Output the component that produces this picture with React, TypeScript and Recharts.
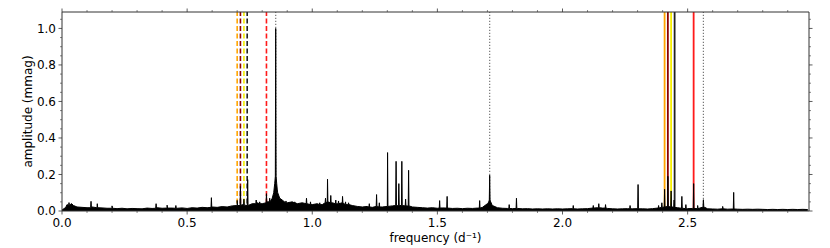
import { Area, ComposedChart, ReferenceLine, XAxis, YAxis } from "recharts";

// noise envelope of the amplitude spectrum, one value every 0.02 d^-1 from 0.00
const NOISE_STEP = 0.02;
const noiseAmp = [
  0.005, 0.035, 0.038, 0.022, 0.02, 0.018, 0.022, 0.02, 0.017, 0.015,
  0.016, 0.013, 0.015, 0.012, 0.014, 0.013, 0.012, 0.016, 0.014, 0.018,
  0.015, 0.02, 0.016, 0.015, 0.017, 0.014, 0.018, 0.016, 0.02, 0.018,
  0.022, 0.02, 0.024, 0.022, 0.028, 0.03, 0.035, 0.03, 0.04, 0.045,
  0.04, 0.05, 0.07, 0.12, 0.06, 0.045, 0.05, 0.04, 0.045, 0.04,
  0.035, 0.04, 0.035, 0.05, 0.045, 0.04, 0.045, 0.035, 0.03, 0.025,
  0.022, 0.025, 0.02, 0.025, 0.022, 0.025, 0.028, 0.03, 0.03, 0.028,
  0.022, 0.02, 0.018, 0.016, 0.018, 0.015, 0.017, 0.016, 0.014, 0.015,
  0.013, 0.015, 0.014, 0.016, 0.02, 0.04, 0.03, 0.018, 0.015, 0.014,
  0.013, 0.014, 0.012, 0.013, 0.011, 0.012, 0.011, 0.012, 0.011, 0.012,
  0.011, 0.012, 0.013, 0.011, 0.012, 0.013, 0.016, 0.018, 0.016, 0.014,
  0.012, 0.011, 0.012, 0.013, 0.012, 0.013, 0.012, 0.011, 0.013, 0.016,
  0.02, 0.025, 0.022, 0.018, 0.015, 0.013, 0.014, 0.013, 0.02, 0.012,
  0.011, 0.01, 0.012, 0.01, 0.011, 0.01, 0.009, 0.01, 0.009, 0.01,
  0.009, 0.008, 0.009, 0.008, 0.009, 0.008, 0.009, 0.008, 0.009, 0.008,
];

// narrow peaks: [frequency, amplitude, local base]
const peaks: [number, number, number][] = [
  [0.028, 0.046, 0.03], [0.116, 0.053, 0.018], [0.141, 0.04, 0.018], [0.2, 0.028, 0.015],
  [0.376, 0.04, 0.015], [0.42, 0.032, 0.016], [0.455, 0.03, 0.015], [0.597, 0.073, 0.02],
  [0.7, 0.058, 0.03], [0.713, 0.135, 0.03], [0.727, 0.065, 0.032], [0.742, 0.172, 0.03],
  [0.776, 0.06, 0.04], [0.79, 0.05, 0.04], [0.817, 0.095, 0.045], [0.83, 0.07, 0.05],
  [0.854, 1.0, 0.19], [0.895, 0.055, 0.045], [0.93, 0.05, 0.045], [0.977, 0.07, 0.04],
  [0.993, 0.05, 0.035], [1.03, 0.045, 0.035], [1.053, 0.07, 0.045], [1.061, 0.174, 0.05],
  [1.074, 0.085, 0.045], [1.094, 0.06, 0.04], [1.105, 0.055, 0.04], [1.121, 0.08, 0.045],
  [1.133, 0.05, 0.035], [1.145, 0.045, 0.035], [1.228, 0.04, 0.022], [1.257, 0.09, 0.025],
  [1.268, 0.045, 0.022], [1.301, 0.32, 0.025], [1.335, 0.272, 0.03], [1.346, 0.15, 0.03],
  [1.358, 0.272, 0.03], [1.373, 0.065, 0.028], [1.385, 0.223, 0.028], [1.509, 0.057, 0.016],
  [1.539, 0.08, 0.016], [1.669, 0.057, 0.016], [1.787, 0.035, 0.014], [1.816, 0.07, 0.014],
  [2.043, 0.03, 0.012], [2.123, 0.03, 0.016], [2.145, 0.04, 0.018], [2.172, 0.035, 0.016],
  [2.27, 0.03, 0.012], [2.302, 0.145, 0.012], [2.384, 0.03, 0.016], [2.397, 0.045, 0.02],
  [2.408, 0.119, 0.022], [2.421, 0.19, 0.025], [2.434, 0.11, 0.022], [2.446, 0.06, 0.02],
  [2.477, 0.08, 0.015], [2.493, 0.035, 0.013], [2.524, 0.15, 0.014], [2.54, 0.03, 0.013],
  [1.709, 0.196, 0.06], [2.563, 0.062, 0.025], [2.64, 0.025, 0.012], [2.684, 0.102, 0.011],
];

// broad wings around the main signal and its harmonics: [frequency, amplitude]
const wings: [number, number][] = [
  [0.015, 0.02], [0.036, 0.04], [0.046, 0.03],
  [0.846, 0.1], [0.85, 0.15], [0.858, 0.15], [0.862, 0.1], [0.87, 0.07],
  [1.7, 0.035], [1.705, 0.05], [1.713, 0.05], [1.718, 0.035],
  [2.558, 0.02], [2.568, 0.02],
];

const dashedFreqs = [0.7, 0.713, 0.727, 0.74, 0.817];
const solidFreqs = [2.408, 2.421, 2.434, 2.448, 2.524];
const harmonicFreqs = [0.854, 1.709, 2.563];

const xTicks = [
  0, 0.1, 0.2, 0.3, 0.4, 0.5, 0.6, 0.7, 0.8, 0.9, 1, 1.1, 1.2, 1.3, 1.4,
  1.5, 1.6, 1.7, 1.8, 1.9, 2, 2.1, 2.2, 2.3, 2.4, 2.5, 2.6, 2.7, 2.8, 2.9,
];
const yTicks = [
  0, 0.05, 0.1, 0.15, 0.2, 0.25, 0.3, 0.35, 0.4, 0.45, 0.5, 0.55,
  0.6, 0.65, 0.7, 0.75, 0.8, 0.85, 0.9, 0.95, 1, 1.05,
];

const LINE_COLORS = ["#ffa500", "#8b0000", "#f5ee00", "#222222", "#ff1a1a"];
const AXIS = "#333";
const FONT = "DejaVu Sans, sans-serif";

const W = 830;
const H = 248;
const LEFT = 62;
const RIGHT = 21;
const TOP = 12;
const BOTTOM = 37;

const points: { f: number; a: number }[] = [];
noiseAmp.forEach((a, i) => points.push({ f: Math.round(i * NOISE_STEP * 1000) / 1000, a }));
wings.forEach(([f, a]) => points.push({ f, a }));
peaks.forEach(([f, a, b]) => {
  points.push({ f: f - 0.0015, a: b });
  points.push({ f, a });
  points.push({ f: f + 0.0015, a: b });
});
points.sort((p, q) => p.f - q.f);

const isMajor = (v: number, every: number) => Math.abs(v / every - Math.round(v / every)) < 1e-6;

function BottomTick({ x, y, payload }: any) {
  const major = isMajor(payload.value, 0.5);
  return (
    <g>
      <line x1={x} x2={x} y1={y} y2={y + (major ? 3.5 : 2)} stroke={AXIS} strokeWidth={major ? 0.8 : 0.6} />
      {major && (
        <text x={x} y={y + 16} textAnchor="middle" fontSize={12} fontFamily={FONT} fill="#000">
          {payload.value.toFixed(1)}
        </text>
      )}
    </g>
  );
}

function TopTick({ x, y, payload }: any) {
  const major = isMajor(payload.value, 0.5);
  return <line x1={x} x2={x} y1={y} y2={y - (major ? 3.5 : 2)} stroke={AXIS} strokeWidth={major ? 0.8 : 0.6} />;
}

function LeftTick({ x, y, payload }: any) {
  const major = isMajor(payload.value, 0.2);
  return (
    <g>
      <line x1={x - (major ? 3.5 : 2)} x2={x} y1={y} y2={y} stroke={AXIS} strokeWidth={major ? 0.8 : 0.6} />
      {major && (
        <text x={x - 6} y={y + 4.3} textAnchor="end" fontSize={12} fontFamily={FONT} fill="#000">
          {payload.value.toFixed(1)}
        </text>
      )}
    </g>
  );
}

function RightTick({ x, y, payload }: any) {
  const major = isMajor(payload.value, 0.2);
  return <line x1={x} x2={x + (major ? 3.5 : 2)} y1={y} y2={y} stroke={AXIS} strokeWidth={major ? 0.8 : 0.6} />;
}

export default function App() {
  const plotH = H - TOP - BOTTOM;
  return (
    <div style={{ position: "absolute", left: 0, top: 0, width: W, height: H, background: "#fff" }}>
      <ComposedChart width={W} height={H} data={points} margin={{ top: 0, right: 0, bottom: 0, left: 0 }}>
        <XAxis
          dataKey="f"
          type="number"
          domain={[0, 2.985]}
          allowDataOverflow
          ticks={xTicks}
          interval={0}
          height={BOTTOM}
          tickSize={0}
          tickMargin={0}
          tickLine={false}
          axisLine={{ stroke: AXIS, strokeWidth: 1 }}
          tick={(p: any) => <BottomTick {...p} />}
          label={{
            content: () => (
              <text x={LEFT + (W - LEFT - RIGHT) / 2} y={H - 6} textAnchor="middle" fontSize={12} fontFamily={FONT} fill="#000">
                frequency (d⁻¹)
              </text>
            ),
          }}
        />
        <XAxis
          xAxisId="top"
          orientation="top"
          dataKey="f"
          type="number"
          domain={[0, 2.985]}
          allowDataOverflow
          ticks={xTicks}
          interval={0}
          height={TOP}
          tickSize={0}
          tickMargin={0}
          tickLine={false}
          axisLine={{ stroke: AXIS, strokeWidth: 1 }}
          tick={(p: any) => <TopTick {...p} />}
        />
        <YAxis
          type="number"
          domain={[0, 1.09]}
          allowDataOverflow
          ticks={yTicks}
          interval={0}
          width={LEFT}
          tickSize={0}
          tickMargin={0}
          tickLine={false}
          axisLine={{ stroke: AXIS, strokeWidth: 1 }}
          tick={(p: any) => <LeftTick {...p} />}
          label={{
            content: () => (
              <text
                x={28}
                y={TOP + plotH / 2}
                transform={`rotate(-90, 28, ${TOP + plotH / 2})`}
                textAnchor="middle"
                dominantBaseline="central"
                fontSize={12}
                fontFamily={FONT}
                fill="#000"
              >
                amplitude (mmag)
              </text>
            ),
          }}
        />
        <YAxis
          yAxisId="right"
          orientation="right"
          type="number"
          domain={[0, 1.09]}
          allowDataOverflow
          ticks={yTicks}
          interval={0}
          width={RIGHT}
          tickSize={0}
          tickMargin={0}
          tickLine={false}
          axisLine={{ stroke: AXIS, strokeWidth: 1 }}
          tick={(p: any) => <RightTick {...p} />}
        />
        {dashedFreqs.map((f, i) => (
          <ReferenceLine key={`d${i}`} x={f} stroke={LINE_COLORS[i]} strokeWidth={1.6} strokeDasharray="5 2.5" zIndex={50} />
        ))}
        {solidFreqs.map((f, i) => (
          <ReferenceLine key={`s${i}`} x={f} stroke={LINE_COLORS[i]} strokeWidth={1.8} zIndex={50} />
        ))}
        {harmonicFreqs.map((f, i) => (
          <ReferenceLine key={`h${i}`} x={f} stroke="#777" strokeWidth={1.2} strokeDasharray="1.2 1.8" zIndex={50} />
        ))}
        <Area
          type="linear"
          dataKey="a"
          stroke="#000"
          strokeWidth={1}
          fill="#000"
          fillOpacity={1}
          dot={false}
          activeDot={false}
          isAnimationActive={false}
          zIndex={450}
        />
      </ComposedChart>
    </div>
  );
}
